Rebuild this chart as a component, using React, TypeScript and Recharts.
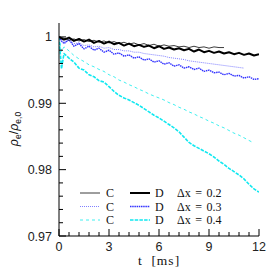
import { LineChart, Line, XAxis, YAxis, Legend } from 'recharts';

// time samples (ms)
const times = [0, 0.15, 0.3, 0.6, 0.9, 1.2, 1.5, 1.8, 2.1, 2.4, 2.7, 3.0, 3.3, 3.6, 3.9, 4.2, 4.5, 4.8, 5.1, 5.4, 5.7, 6.0, 6.3, 6.6, 6.9, 7.2, 7.5, 7.8, 8.1, 8.4, 8.7, 9.0, 9.3, 9.6, 9.9, 10.2, 10.5, 10.8, 11.1, 11.4, 11.7, 12.0];

// rho_e / rho_e,0 per run
const c02 = [1.0000, 0.9999, 0.9998, 0.9995, 0.9997, 0.9994, 0.9996, 0.9993, 0.9995, 0.9992, 0.9994, 0.9991, 0.9993, 0.9990, 0.9992, 0.9989, 0.9991, 0.9988, 0.9990, 0.9987, 0.9989, 0.9986, 0.9988, 0.9986, 0.9987, 0.9985, 0.9986, 0.9984, 0.9986, 0.9984, 0.9985, 0.9983, 0.9985, 0.9984, 0.9984];
const d02 = [1.0000, 0.9998, 0.9996, 0.9999, 0.9994, 0.9997, 0.9993, 0.9996, 0.9991, 0.9994, 0.9990, 0.9993, 0.9989, 0.9991, 0.9987, 0.9990, 0.9986, 0.9988, 0.9985, 0.9987, 0.9983, 0.9986, 0.9982, 0.9984, 0.9981, 0.9983, 0.9980, 0.9982, 0.9978, 0.9981, 0.9977, 0.9979, 0.9976, 0.9978, 0.9975, 0.9977, 0.9974, 0.9976, 0.9973, 0.9975, 0.9972, 0.9974];
const c03 = [1.0000, 0.9997, 0.9993, 0.9995, 0.9990, 0.9991, 0.9987, 0.9988, 0.9985, 0.9986, 0.9983, 0.9984, 0.9981, 0.9981, 0.9979, 0.9979, 0.9977, 0.9977, 0.9975, 0.9974, 0.9973, 0.9972, 0.9971, 0.9969, 0.9968, 0.9967, 0.9966, 0.9964, 0.9963, 0.9962, 0.9961, 0.9960, 0.9959, 0.9958, 0.9957, 0.9956, 0.9955, 0.9954, 0.9953];
const d03 = [1.0000, 0.9994, 0.9990, 0.9996, 0.9986, 0.9990, 0.9982, 0.9986, 0.9980, 0.9983, 0.9977, 0.9980, 0.9974, 0.9976, 0.9971, 0.9973, 0.9968, 0.9970, 0.9965, 0.9967, 0.9962, 0.9964, 0.9959, 0.9961, 0.9956, 0.9958, 0.9953, 0.9955, 0.9951, 0.9953, 0.9948, 0.9950, 0.9946, 0.9947, 0.9943, 0.9945, 0.9941, 0.9942, 0.9938, 0.9940, 0.9936, 0.9937];
const c04 = [1.0000, 0.9978, 0.9985, 0.9979, 0.9972, 0.9967, 0.9963, 0.9958, 0.9955, 0.9951, 0.9948, 0.9943, 0.9940, 0.9935, 0.9932, 0.9928, 0.9925, 0.9921, 0.9918, 0.9914, 0.9911, 0.9908, 0.9905, 0.9901, 0.9898, 0.9894, 0.9891, 0.9887, 0.9884, 0.9880, 0.9877, 0.9873, 0.9870, 0.9866, 0.9863, 0.9859, 0.9855, 0.9852, 0.9848, 0.9844, 0.9840];
const d04 = [1.0000, 0.9952, 0.9975, 0.9968, 0.9962, 0.9953, 0.9950, 0.9943, 0.9940, 0.9934, 0.9932, 0.9925, 0.9918, 0.9912, 0.9908, 0.9905, 0.9901, 0.9897, 0.9892, 0.9887, 0.9882, 0.9878, 0.9873, 0.9868, 0.9863, 0.9857, 0.9849, 0.9841, 0.9836, 0.9832, 0.9828, 0.9824, 0.9819, 0.9813, 0.9808, 0.9802, 0.9797, 0.9792, 0.9786, 0.9778, 0.9771, 0.9766];

const xTicks = [0, 0.6, 1.2, 1.8, 2.4, 3, 3.6, 4.2, 4.8, 5.4, 6, 6.6, 7.2, 7.8, 8.4, 9, 9.6, 10.2, 10.8, 11.4, 12];
const yTicks = [0.97, 0.972, 0.974, 0.976, 0.978, 0.98, 0.982, 0.984, 0.986, 0.988, 0.99, 0.992, 0.994, 0.996, 0.998, 1.0];
const dxLabels = ['0.2', '0.3', '0.4'];

const styles = [
  { c: { stroke: '#3c3c3c', width: 1, dash: undefined }, d: { stroke: '#000', width: 2, dash: undefined } },
  { c: { stroke: '#8080ff', width: 1, dash: '1 1' }, d: { stroke: '#3030ff', width: 1.4, dash: '1.5 0.7' } },
  { c: { stroke: '#40f0f0', width: 1, dash: '3 3' }, d: { stroke: '#10e8f0', width: 1.6, dash: '3.5 1.2' } },
];

const data = times.map((t, i) => ({ t, c02: c02[i], d02: d02[i], c03: c03[i], d03: d03[i], c04: c04[i], d04: d04[i] }));

const tickFont = { fontFamily: '"Liberation Sans", Arial, sans-serif', fontSize: 12.5, fill: '#222' };
const serif = '"Liberation Serif", "Times New Roman", serif';

const isMajorX = (v: number) => Math.abs(v / 3 - Math.round(v / 3)) < 1e-6;
const isMajorY = (v: number) => Math.abs(v * 100 - Math.round(v * 100)) < 1e-6;

const BottomTick = ({ x, y, payload }: any) => {
  const major = isMajorX(payload.value);
  return (
    <g>
      <line x1={x} x2={x} y1={y} y2={y - (major ? 7 : 4)} stroke="#000" />
      {major && <text x={x} y={y + 15} textAnchor="middle" {...tickFont}>{payload.value}</text>}
    </g>
  );
};
const TopTick = ({ x, y, payload }: any) => {
  const major = isMajorX(payload.value);
  return <line x1={x} x2={x} y1={y} y2={y + (major ? 7 : 4)} stroke="#000" />;
};
const LeftTick = ({ x, y, payload }: any) => {
  const major = isMajorY(payload.value);
  return (
    <g>
      <line x1={x} x2={x + (major ? 7 : 4)} y1={y} y2={y} stroke="#000" />
      {major && <text x={x - 7} y={y + 4.5} textAnchor="end" {...tickFont}>{String(Number(payload.value.toFixed(2)))}</text>}
    </g>
  );
};
const RightTick = ({ x, y, payload }: any) => {
  const major = isMajorY(payload.value);
  return <line x1={x} x2={x - (major ? 7 : 4)} y1={y} y2={y} stroke="#000" />;
};

const XTitle = ({ viewBox }: any) => (
  <text x={viewBox.x + viewBox.width / 2} y={viewBox.y + 29} textAnchor="middle" fontFamily={serif} fontSize={13.5} letterSpacing={1} fill="#111" style={{ whiteSpace: 'pre' }}>
    {'t  [ms]'}
  </text>
);

const YTitle = () => {
  const cx = 18;
  const cy = 129;
  return (
    <text x={cx} y={cy} transform={`rotate(-90, ${cx}, ${cy})`} textAnchor="middle" fontFamily='"Liberation Sans", Arial, sans-serif' fontSize={12.5} fill="#111">
      <tspan fontStyle="italic">ρ</tspan>
      <tspan fontSize={8.5} dy={3}>e</tspan>
      <tspan dy={-3}>/</tspan>
      <tspan fontStyle="italic">ρ</tspan>
      <tspan fontSize={8.5} dy={3}>e,0</tspan>
    </text>
  );
};

const LegendBox = () => (
  <svg width={170} height={44} style={{ display: 'block' }}>
    {dxLabels.map((lab, i) => {
      const y = 8 + i * 13.5;
      const s = styles[i];
      return (
        <g key={lab} fontFamily={serif} fontSize={12} fill="#111">
          <line x1={2} x2={22} y1={y} y2={y} stroke={s.c.stroke} strokeWidth={s.c.width} strokeDasharray={s.c.dash} />
          <text x={28} y={y + 4}>C</text>
          <line x1={52} x2={72} y1={y} y2={y} stroke={s.d.stroke} strokeWidth={s.d.width} strokeDasharray={s.d.dash} />
          <text x={77} y={y + 4}>D</text>
          <text x={99} y={y + 4} wordSpacing={1.5} style={{ whiteSpace: 'pre' }}>{`Δx = ${lab}`}</text>
        </g>
      );
    })}
  </svg>
);

export default function App() {
  const series = [
    { key: 'c04', s: styles[2].c },
    { key: 'd04', s: styles[2].d },
    { key: 'c03', s: styles[1].c },
    { key: 'd03', s: styles[1].d },
    { key: 'c02', s: styles[0].c },
    { key: 'd02', s: styles[0].d },
  ];
  return (
    <div style={{ position: 'absolute', left: 0, top: 0, width: 274, height: 274, background: '#fff' }}>
      <LineChart width={274} height={274} data={data} margin={{ top: 23, right: 15, bottom: 0, left: 0 }}>
        <XAxis dataKey="t" type="number" domain={[0, 12]} ticks={xTicks} interval={0} allowDataOverflow height={38}
          tickSize={0} tickMargin={0} tickLine={false} tick={<BottomTick />} axisLine={{ stroke: '#000' }} label={<XTitle />} />
        <XAxis xAxisId="top" orientation="top" dataKey="t" type="number" domain={[0, 12]} ticks={xTicks} interval={0} allowDataOverflow height={0}
          tickSize={0} tickMargin={0} tickLine={false} tick={<TopTick />} axisLine={{ stroke: '#000' }} />
        <YAxis type="number" domain={[0.97, 1.0021]} ticks={yTicks} interval={0} allowDataOverflow width={59}
          tickSize={0} tickMargin={0} tickLine={false} tick={<LeftTick />} axisLine={{ stroke: '#000' }} label={<YTitle />} />
        <YAxis yAxisId="right" orientation="right" type="number" domain={[0.97, 1.0021]} ticks={yTicks} interval={0} allowDataOverflow width={0}
          tickSize={0} tickMargin={0} tickLine={false} tick={<RightTick />} axisLine={{ stroke: '#000' }} />
        <Legend layout="horizontal" verticalAlign="middle" content={<LegendBox />}
          wrapperStyle={{ position: 'absolute', left: 78, top: 185, width: 170, height: 44 }} />
        {series.map(({ key, s }) => (
          <Line key={key} dataKey={key} type="linear" dot={false} activeDot={false} isAnimationActive={false}
            stroke={s.stroke} strokeWidth={s.width} strokeDasharray={s.dash} strokeLinejoin="round" />
        ))}
      </LineChart>
    </div>
  );
}
